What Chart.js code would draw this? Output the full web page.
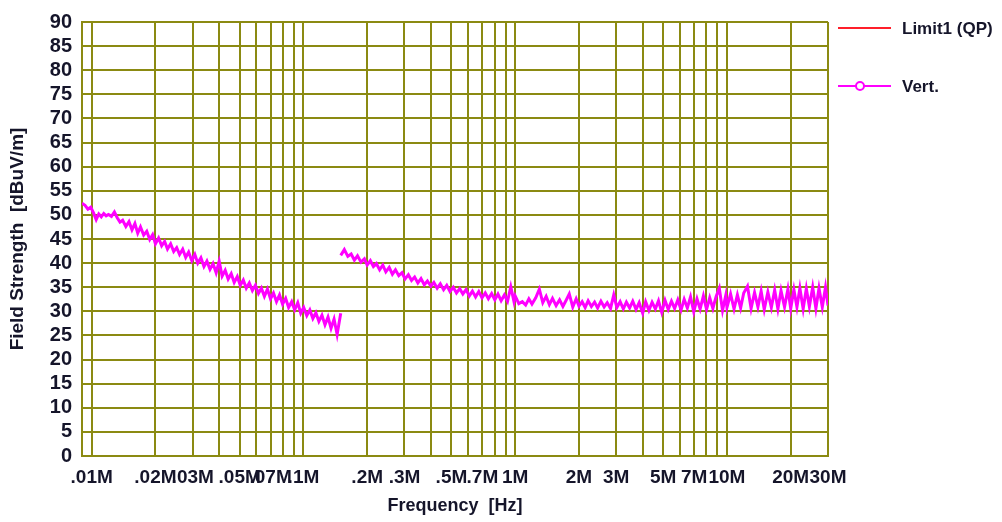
<!DOCTYPE html>
<html>
<head>
<meta charset="utf-8">
<script src="https://cdn.jsdelivr.net/npm/chart.js@4.4.1/dist/chart.umd.min.js"></script>
<style>
  html, body { margin: 0; padding: 0; background: #fff; }
  #wrap { width: 1002px; height: 522px; }
</style>
</head>
<body>
<div id="wrap"><canvas id="fsChart" width="1002" height="522"></canvas></div>
<script>
// Barrido bajo (9 kHz - 150 kHz), frecuencias en MHz
const freqLow = [0.009, 0.0093, 0.0096, 0.0099, 0.0102, 0.0105, 0.0108, 0.0111, 0.0114, 0.0117,
  0.012, 0.0124, 0.0128, 0.0132, 0.0136, 0.014, 0.0145, 0.015, 0.0155, 0.016,
  0.0165, 0.017, 0.0176, 0.0182, 0.0188, 0.0194, 0.02, 0.0207, 0.0214, 0.0221,
  0.0228, 0.0236, 0.0244, 0.0252, 0.026, 0.0269, 0.0278, 0.0287, 0.0297, 0.0307,
  0.0317, 0.0328, 0.0339, 0.035, 0.0362, 0.0374, 0.0387, 0.04, 0.0413, 0.0427,
  0.0441, 0.0456, 0.0471, 0.0487, 0.0503, 0.052, 0.0537, 0.0555, 0.0574, 0.0593,
  0.0613, 0.0633, 0.0654, 0.0676, 0.0699, 0.0722, 0.0746, 0.0771, 0.0797, 0.0824,
  0.0851, 0.088, 0.0909, 0.094, 0.0971, 0.1003, 0.1037, 0.1072, 0.1108, 0.1145,
  0.1183, 0.1223, 0.1264, 0.1306, 0.135, 0.1395, 0.1442, 0.15];
const levelLow = [52.4, 52.0, 51.2, 51.6, 50.4, 49.0, 50.2, 49.6, 50.3, 49.8,
  50.1, 49.7, 50.6, 49.4, 48.5, 48.9, 47.6, 48.6, 46.9, 48.2,
  46.2, 47.5, 45.8, 46.6, 44.9, 45.9, 44.0, 45.2, 43.6, 44.5,
  42.9, 44.0, 42.4, 43.2, 41.8, 42.9, 41.2, 42.3, 40.5, 41.8,
  40.0, 41.1, 39.3, 40.4, 38.7, 39.9, 38.0, 40.4, 37.3, 38.5,
  36.7, 37.8, 36.0, 37.2, 35.4, 36.5, 34.8, 35.9, 34.3, 35.4,
  33.7, 34.8, 33.1, 34.6, 32.6, 33.8, 32.0, 33.4, 31.5, 32.7,
  30.8, 32.0, 30.3, 31.8, 29.6, 30.8, 29.1, 30.3, 28.5, 29.7,
  27.9, 29.2, 27.2, 28.8, 26.5, 28.4, 25.2, 29.6];

// Barrido alto (150 kHz - 30 MHz)
const freqHigh = [0.15, 0.156, 0.162, 0.168, 0.174, 0.18, 0.187, 0.194, 0.2, 0.207,
  0.214, 0.221, 0.229, 0.237, 0.245, 0.254, 0.263, 0.272, 0.282, 0.292,
  0.302, 0.313, 0.324, 0.335, 0.347, 0.359, 0.372, 0.385, 0.4, 0.413,
  0.428, 0.443, 0.459, 0.475, 0.492, 0.51, 0.528, 0.547, 0.566, 0.586,
  0.607, 0.628, 0.65, 0.673, 0.697, 0.722, 0.747, 0.774, 0.801, 0.829,
  0.858, 0.889, 0.92, 0.953, 0.987,
  1.0, 1.04, 1.08, 1.12, 1.16, 1.2, 1.25, 1.3, 1.35, 1.4,
  1.45, 1.5, 1.56, 1.62, 1.68, 1.74, 1.8, 1.87, 1.94, 2.0,
  2.07, 2.14, 2.21, 2.29, 2.37, 2.45, 2.54, 2.63, 2.72, 2.82,
  2.92, 3.02, 3.13, 3.24, 3.35, 3.47, 3.59, 3.72, 3.85, 4.0,
  4.13, 4.28, 4.43, 4.59, 4.75, 4.92, 5.1, 5.28, 5.47, 5.66,
  5.86, 6.07, 6.28, 6.5, 6.73, 6.97, 7.22, 7.47, 7.74, 8.01,
  8.29, 8.58, 8.89, 9.2, 9.53, 9.87,
  10.0, 10.4, 10.8, 11.2, 11.6, 12.0, 12.5, 13.0, 13.5, 14.0,
  14.5, 15.0, 15.6, 16.2, 16.8, 17.4, 18.0, 18.7, 19.4, 20.0,
  20.7, 21.4, 22.1, 22.9, 23.7, 24.5, 25.4, 26.3, 27.2, 28.2,
  29.2, 30.0];
const levelHigh = [41.6, 42.8, 41.4, 41.9, 40.6, 41.5, 40.2, 40.9, 39.6, 40.5,
  39.3, 39.9, 38.6, 39.6, 38.2, 39.1, 37.7, 38.6, 37.4, 38.0,
  36.7, 37.6, 36.4, 37.1, 35.9, 36.8, 35.5, 36.3, 35.2, 36.0,
  34.8, 35.7, 34.5, 35.4, 34.1, 35.0, 33.8, 34.7, 33.6, 34.5,
  33.2, 34.2, 33.0, 34.1, 32.8, 33.8, 32.6, 33.7, 32.4, 33.6,
  32.2, 33.4, 32.1, 35.1, 32.0,
  33.2, 31.6, 32.0, 31.3, 32.6, 31.5, 32.8, 34.6, 31.8, 33.1,
  31.4, 32.7, 31.2, 32.4, 31.0, 32.3, 33.6, 30.9, 32.6, 31.1,
  32.0, 30.8, 32.2, 31.0, 31.9, 30.7, 32.1, 30.9, 31.8, 30.6,
  33.4, 30.8, 32.0, 30.5, 31.9, 30.7, 32.1, 30.4, 31.8, 29.6,
  32.0, 30.2, 31.9, 30.5, 32.2, 29.8, 32.3, 30.4, 32.1, 30.6,
  32.4, 30.3, 32.5, 30.7, 33.0, 29.9, 32.6, 30.5, 33.2, 30.4,
  32.8, 30.6, 33.1, 34.8, 30.2, 33.3,
  30.8, 33.6, 30.5, 33.4, 30.7, 33.8, 35.2, 30.6, 33.9, 30.9,
  34.2, 30.4, 34.0, 30.8, 34.4, 30.5, 34.3, 30.9, 34.6, 30.6,
  34.5, 30.9, 34.8, 30.5, 34.7, 31.0, 35.0, 30.6, 34.8, 30.9,
  35.0, 31.2];

// Rejilla vertical y etiquetas del eje X
const gridFreqs = [0.009, 0.01, 0.02, 0.03, 0.04, 0.05, 0.06, 0.07, 0.08, 0.09,
  0.1, 0.2, 0.3, 0.4, 0.5, 0.6, 0.7, 0.8, 0.9,
  1, 2, 3, 4, 5, 6, 7, 8, 9, 10, 20, 30];
const labelFreqs = [0.01, 0.02, 0.03, 0.05, 0.07, 0.1, 0.2, 0.3, 0.5, 0.7, 1, 2, 3, 5, 7, 10, 20, 30];
const labelTexts = ['.01M', '.02M', '.03M', '.05M', '.07M', '.1M', '.2M', '.3M', '.5M', '.7M',
  '1M', '2M', '3M', '5M', '7M', '10M', '20M', '30M'];

const legendItems = [
  { text: 'Limit1 (QP)', color: '#ff1f2a', marker: false },
  { text: 'Vert.', color: '#ff00ff', marker: true }
];

const GRID = '#8b8a12';
const INK = '#15152a';
Chart.defaults.font.family = "'Liberation Sans', Arial, sans-serif";
Chart.defaults.font.weight = 'bold';

// Leyenda dibujada a mano a la derecha
const sideLegend = {
  id: 'sideLegend',
  afterDraw(chart) {
    const ctx = chart.ctx;
    ctx.save();
    legendItems.forEach((item, i) => {
      const y = 28 + i * 58;
      ctx.strokeStyle = item.color;
      ctx.lineWidth = 2;
      ctx.beginPath();
      ctx.moveTo(838, y);
      ctx.lineTo(891, y);
      ctx.stroke();
      if (item.marker) {
        ctx.fillStyle = '#fff';
        ctx.beginPath();
        ctx.arc(860, y, 4, 0, Math.PI * 2);
        ctx.fill();
        ctx.stroke();
      }
      ctx.fillStyle = INK;
      ctx.font = "bold 17px 'Liberation Sans', Arial, sans-serif";
      ctx.textBaseline = 'middle';
      ctx.fillText(item.text, 902, y + 1);
    });
    ctx.restore();
  }
};

new Chart(document.getElementById('fsChart'), {
  type: 'line',
  data: {
    datasets: [{
      label: 'Vert.',
      data: freqLow.map((f, i) => ({ x: f, y: levelLow[i] })),
      borderColor: '#ff00ff',
      borderWidth: 3,
      pointRadius: 0,
      tension: 0
    }, {
      label: 'Vert.',
      data: freqHigh.map((f, i) => ({ x: f, y: levelHigh[i] })),
      borderColor: '#ff00ff',
      borderWidth: 3,
      pointRadius: 0,
      tension: 0
    }]
  },
  options: {
    responsive: false,
    animation: false,
    layout: { padding: { top: 16, right: 174, left: 0, bottom: 0 } },
    plugins: {
      legend: { display: false },
      tooltip: { enabled: false }
    },
    scales: {
      x: {
        type: 'logarithmic',
        min: 0.009,
        max: 30,
        afterBuildTicks: scale => {
          scale.ticks = gridFreqs.map(v => ({ value: v }));
        },
        afterFit: scale => { scale.height = 66; },
        grid: { color: GRID, lineWidth: 2, drawTicks: false },
        border: { color: GRID, width: 2 },
        ticks: {
          autoSkip: false,
          maxRotation: 0,
          padding: 10,
          color: INK,
          font: { size: 19 },
          callback: value => {
            const k = labelFreqs.findIndex(f => Math.abs(value / f - 1) < 1e-6);
            return k >= 0 ? labelTexts[k] : '';
          }
        },
        title: {
          display: true,
          text: 'Frequency  [Hz]',
          color: INK,
          font: { size: 18 },
          padding: { top: 0, bottom: 5 }
        }
      },
      y: {
        min: 0,
        max: 90,
        afterFit: scale => { scale.width = 82; },
        grid: { color: GRID, lineWidth: 2, drawTicks: false },
        border: { color: GRID, width: 2 },
        ticks: {
          stepSize: 5,
          autoSkip: false,
          padding: 10,
          color: INK,
          font: { size: 20 }
        },
        title: {
          display: true,
          text: 'Field Strength  [dBuV/m]',
          color: INK,
          font: { size: 19 },
          padding: { top: 6, bottom: 0 }
        }
      }
    }
  },
  plugins: [sideLegend]
});
</script>
</body>
</html>
